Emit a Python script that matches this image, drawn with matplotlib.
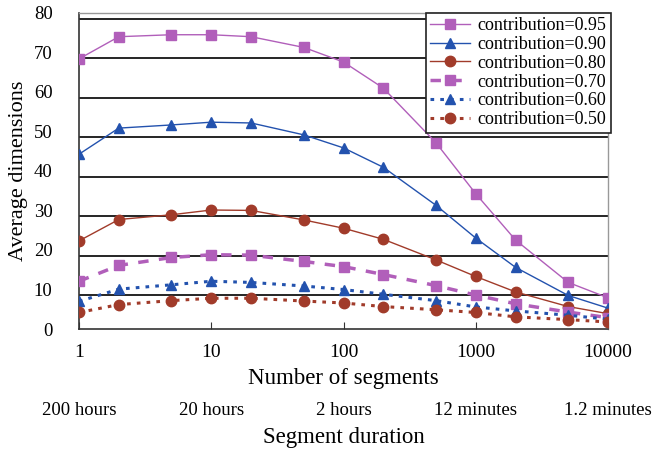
import matplotlib
matplotlib.use('Agg')
from matplotlib import pyplot as plt

plt.rcParams['font.family'] = ['Liberation Serif', 'DejaVu Serif']

segments = [1, 2, 5, 10, 20, 50, 100, 200, 500, 1000, 2000, 5000, 10000]

c095 = [68.3, 73.9, 74.4, 74.4, 73.9, 71.2, 67.5, 60.9, 47.1, 34.2, 22.5, 11.8, 7.9]
c090 = [44.2, 50.8, 51.6, 52.3, 52.1, 49.1, 45.8, 40.9, 31.3, 23.0, 15.6, 8.5, 5.3]
c080 = [22.3, 27.7, 28.9, 30.1, 30.0, 27.6, 25.5, 22.7, 17.5, 13.3, 9.4, 5.7, 3.9]
c070 = [12.1, 16.1, 18.1, 18.8, 18.7, 17.1, 15.8, 13.8, 11.0, 8.6, 6.4, 4.3, 2.9]
c060 = [7.0, 10.1, 11.2, 12.1, 11.8, 10.9, 10.0, 8.8, 7.2, 5.6, 4.6, 3.5, 2.5]
c050 = [4.2, 6.2, 7.2, 7.8, 7.8, 7.1, 6.6, 5.7, 4.9, 4.2, 3.1, 2.4, 1.8]

tick_pos = [1, 10, 100, 1000, 10000]
tick_labels = ['1', '10', '100', '1000', '10000']
durations = ['200 hours', '20 hours', '2 hours', '12 minutes', '1.2 minutes']

violet = '#B15FBA'
blue = '#2352AE'
brown = '#A13B2A'

fig = plt.figure(figsize=(6.66, 4.49), dpi=100)
ax = fig.add_axes([0.1186, 0.267, 0.7944, 0.705])

# grid lines sit a bit below the labelled values in the original
for g in range(10, 90, 10):
    ax.axhline(g - 1.5, color='k', lw=1.2, zorder=1)

ax.plot(segments, c095, color=violet, lw=1, marker='s', ms=7.5, label='contribution=0.95', zorder=3)
ax.plot(segments, c090, color=blue, lw=1, marker='^', ms=7.5, label='contribution=0.90', zorder=3)
ax.plot(segments, c080, color=brown, lw=1, marker='o', ms=7.5, label='contribution=0.80', zorder=3)
ax.plot(segments, c070, color=violet, lw=2.5, ls=(0, (3, 3)), marker='s', ms=7.5, label='contribution=0.70', zorder=3)
ax.plot(segments, c060, color=blue, lw=2.2, ls=(0, (1.2, 2)), marker='^', ms=7.5, label='contribution=0.60', zorder=3)
ax.plot(segments, c050, color=brown, lw=2.2, ls=(0, (1.2, 2)), marker='o', ms=7.5, label='contribution=0.50', zorder=3)

ax.set_xscale('log')
ax.set_xlim(1, 10000)
ax.set_ylim(0, 80)
ax.set_xticks(tick_pos)
ax.set_xticklabels(tick_labels, fontsize=14)
ax.minorticks_off()
ax.set_yticks(range(0, 90, 10))
ax.tick_params(axis='y', length=0, labelsize=13.5, pad=19)
ax.tick_params(axis='x', direction='in', length=5, pad=11, color='#333333')

for s in ['top', 'right']:
    ax.spines[s].set_color('#999999')
    ax.spines[s].set_linewidth(1)
for s in ['left', 'bottom']:
    ax.spines[s].set_color('#333333')
    ax.spines[s].set_linewidth(1.2)

ax.set_ylabel('Average dimensions', fontsize=16, labelpad=4)
ax.set_xlabel('Number of segments', fontsize=16.5, labelpad=5)

for x, lab in zip(tick_pos, durations):
    ax.text(x, -0.256, lab, transform=ax.get_xaxis_transform(),
            ha='center', va='center', fontsize=13.5)
ax.text(100, -0.342, 'Segment duration', transform=ax.get_xaxis_transform(),
        ha='center', va='center', fontsize=16.5)

leg = ax.legend(loc='upper right', bbox_to_anchor=(1.005, 1.0), fontsize=13,
                frameon=True, fancybox=False, edgecolor='#222222',
                handlelength=2.2, handletextpad=0.4, labelspacing=0.1,
                borderpad=0.25, borderaxespad=0)
leg.get_frame().set_linewidth(1.2)
leg.get_frame().set_alpha(1)
leg.set_zorder(5)

fig.savefig('out.png', dpi=100)
